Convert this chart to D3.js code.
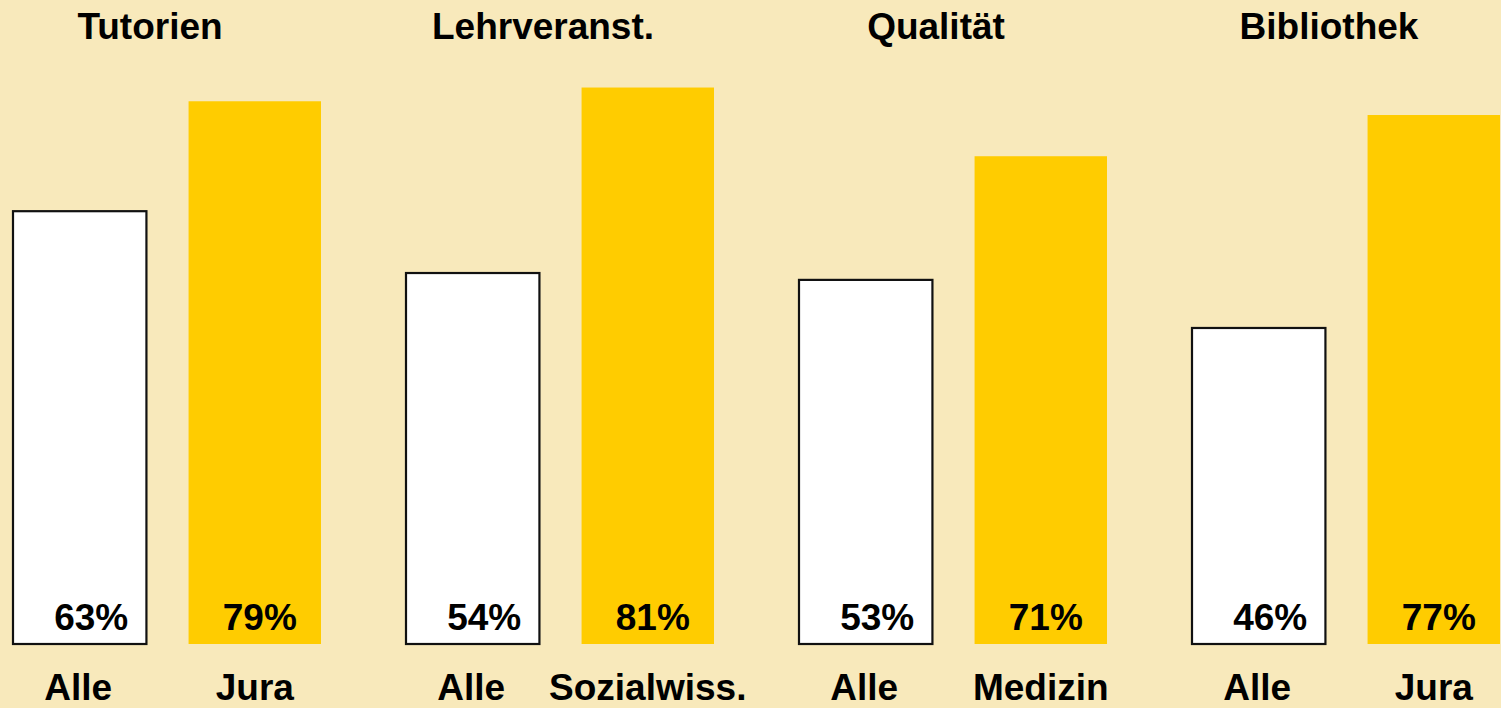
<!DOCTYPE html>
<html>
<head>
<meta charset="utf-8">
<script src="https://cdn.jsdelivr.net/npm/d3@7"></script>
<style>
    body { margin: 0; background: #f8e9bb; overflow: hidden; }
    text { font-family: "Liberation Sans", Arial, sans-serif; font-weight: bold; fill: #000; }
</style>
</head>
<body>
<div id="chart"></div>
<script>
// Four survey items, each compares "Alle" with one faculty
const groups = ["Tutorien", "Lehrveranst.", "Qualität", "Bibliothek"];
const faculties = ["Jura", "Sozialwiss.", "Medizin", "Jura"];
const alleValues = [63, 54, 53, 46];
const facultyValues = [79, 81, 71, 77];

const width = 1501;
const height = 708;
const baseline = 644;

// one row per bar
const bars = [];
groups.forEach((g, i) => {
    bars.push({group: g, kind: "alle", label: "Alle", value: alleValues[i]});
    bars.push({group: g, kind: "fach", label: faculties[i], value: facultyValues[i]});
});

const svg = d3.select("#chart")
    .append("svg")
    .attr("width", width)
    .attr("height", height);

const x = d3.scaleBand()
    .domain(groups)
    .range([12, 12 + 393 * groups.length]);

const xInner = d3.scaleBand()
    .domain(["alle", "fach"])
    .range([0, 309])
    .paddingInner(0.25);

const y = d3.scaleLinear()
    .domain([0, 100])
    .range([baseline, baseline - 687]);

const barX = d => x(d.group) + xInner(d.kind);
const barMid = d => barX(d) + xInner.bandwidth() / 2;

// bars
svg.append("g")
    .selectAll("rect")
    .data(bars)
    .enter().append("rect")
    .attr("x", d => d.kind === "alle" ? barX(d) + 1 : barX(d))
    .attr("y", d => y(d.value))
    .attr("width", d => d.kind === "alle" ? xInner.bandwidth() + 1 : xInner.bandwidth())
    .attr("height", d => baseline - y(d.value))
    .attr("fill", d => d.kind === "alle" ? "#ffffff" : "#ffcc00")
    .attr("stroke", d => d.kind === "alle" ? "#111" : "none")
    .attr("stroke-width", 2.2);

// percent labels inside the bars
svg.append("g")
    .selectAll("text")
    .data(bars)
    .enter().append("text")
    .attr("x", d => barMid(d) + (d.kind === "alle" ? 13 : 5))
    .attr("y", baseline - 14)
    .attr("text-anchor", "middle")
    .style("font-size", "37px")
    .text(d => d.value + "%");

// category labels below
svg.append("g")
    .selectAll("text")
    .data(bars)
    .enter().append("text")
    .attr("x", d => barMid(d))
    .attr("y", 700)
    .attr("text-anchor", "middle")
    .style("font-size", "37px")
    .text(d => d.label);

// group titles
svg.append("g")
    .selectAll("text")
    .data(groups)
    .enter().append("text")
    .attr("x", d => x(d) + 138)
    .attr("y", 39)
    .attr("text-anchor", "middle")
    .style("font-size", "37px")
    .text(d => d);
</script>
</body>
</html>
